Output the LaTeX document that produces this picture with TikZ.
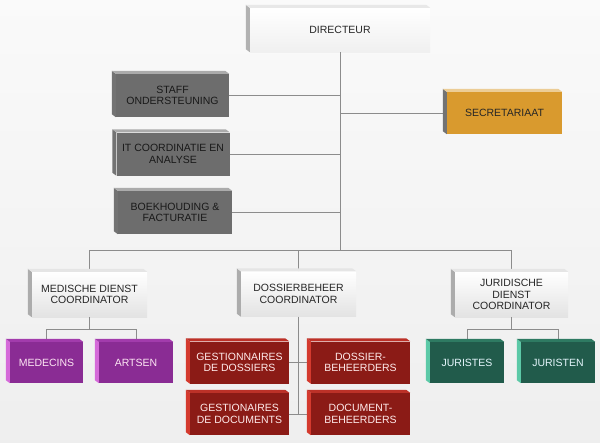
\documentclass[tikz,border=0pt]{standalone}
\usepackage{fontspec}
\setmainfont{Liberation Sans}
\usetikzlibrary{calc}
\definecolor{boxgray}{HTML}{6D6D6D}
\definecolor{secfill}{HTML}{D99A2E}
\definecolor{medfill}{HTML}{8A2C94}
\definecolor{medside}{HTML}{D56AD9}
\definecolor{medtop}{HTML}{A23CAC}
\definecolor{dosfill}{HTML}{8B1B16}
\definecolor{dosside}{HTML}{D43A2E}
\definecolor{dostop}{HTML}{BC3128}
\definecolor{jurfill}{HTML}{215B4B}
\definecolor{jurside}{HTML}{5CC9A7}
\definecolor{jurtop}{HTML}{2E7A62}
\definecolor{wireclr}{HTML}{8C8C8C}
\def\bevel(#1)[#2][#3]{%
	\fill[#2] (#1.north west) -- ++(-4,-3) -- ($(#1.south west)+(-4,-3)$) -- (#1.south west) -- cycle;
	\fill[#3] (#1.north west) -- ++(-4,-3) -- ($(#1.north east)+(-4,-3)$) -- (#1.north east) -- cycle;}
\tikzset{
	unit/.style={inner sep=0pt, align=center, font=\fontsize{10.5}{11.5}\selectfont},
	chief/.style={unit, top color=white, bottom color=gray!12, text=black!85, minimum width=180, minimum height=44},
	staffbox/.style={unit, fill=boxgray, text=black!90, minimum width=113, minimum height=43},
	secbox/.style={unit, fill=secfill, text=black!85, minimum width=115, minimum height=42},
	coordbox/.style={unit, top color=white, bottom color=gray!22, text=black!85, minimum width=115, minimum height=45},
	medbox/.style={unit, fill=medfill, text=white!90!magenta, minimum width=74, minimum height=41},
	dosbox/.style={unit, fill=dosfill, text=white!92!red, minimum width=99, minimum height=42},
	jurbox/.style={unit, fill=jurfill, text=white!90!cyan, minimum width=74, minimum height=41},
	wire/.style={draw=wireclr, line width=0.9pt}
}
\begin{document}
\begin{tikzpicture}[x=1pt, y=-1pt]
			%%%%% START %%%%%
			\useasboundingbox (0,0) rectangle (600,442);
			\shade[top color=gray!4, bottom color=gray!13] (0,0) rectangle (600,442);
			
			\node[chief] (dir) at (340,30) {DIRECTEUR};
			
			\node[staffbox] (staff) at (172.5,95.5) {STAFF\\ONDERSTEUNING};
			\node[staffbox] (it) at (173,154) {IT COORDINATIE EN\\ANALYSE};
			\node[staffbox, minimum width=114] (boek) at (175,212.5) {BOEKHOUDING \&\\FACTURATIE};
			\node[secbox] (sec) at (504.5,113) {SECRETARIAAT};
			
			\node[coordbox] (med) at (89.5,294.5) {MEDISCHE DIENST\\COORDINATOR};
			\node[coordbox] (dos) at (298.5,294) {DOSSIERBEHEER\\COORDINATOR};
			\node[coordbox, minimum width=113] (jur) at (511.5,294.5) {JURIDISCHE\\DIENST\\COORDINATOR};
			
			\node[medbox, minimum width=73] (medecins) at (46.5,362.5) {MEDECINS};
			\node[medbox] (artsen) at (136,362.5) {ARTSEN};
			\node[dosbox] (gdos) at (239.5,362.5) {GESTIONNAIRES\\DE DOSSIERS};
			\node[dosbox] (dbeh) at (360.5,362.5) {DOSSIER-\\BEHEERDERS};
			\node[dosbox] (gdoc) at (239.5,414) {GESTIONAIRES\\DE DOCUMENTS};
			\node[dosbox] (docb) at (360.5,414) {DOCUMENT-\\BEHEERDERS};
			\node[jurbox] (juristes) at (467,362.5) {JURISTES};
			\node[jurbox] (juristen) at (558,362.5) {JURISTEN};
			
			% connectors
			\coordinate (bus) at (0,250);
			\coordinate (lowbus) at (0,329);
			\draw[wire] (dir.south) -- (dir.south |- bus);
			\draw[wire] (staff.east) -- (staff.east -| dir.south);
			\draw[wire] (it.east) -- (it.east -| dir.south);
			\draw[wire] (boek.east) -- (boek.east -| dir.south);
			\draw[wire] (sec.west) -- (sec.west -| dir.south);
			\draw[wire] (med.north) -- (med.north |- bus) -- (jur.north |- bus) -- (jur.north);
			\draw[wire] (dos.north) -- (dos.north |- bus);
			
			\draw[wire] (med.south) -- (med.south |- lowbus);
			\draw[wire] (medecins.north) -- (medecins.north |- lowbus) -- (artsen.north |- lowbus) -- (artsen.north);
			\draw[wire] (jur.south) -- (jur.south |- lowbus);
			\draw[wire] (juristes.north) -- (juristes.north |- lowbus) -- (juristen.north |- lowbus) -- (juristen.north);
			\draw[wire] (dos.south) -- (dos.south |- gdoc.east);
			\draw[wire] (gdos.east) -- (dbeh.west);
			\draw[wire] (gdoc.east) -- (docb.west);
			
			% bevels
			\bevel(dir)[gray!60][gray!18]
			\bevel(staff)[black!55][black!33]
			\bevel(it)[black!55][black!33]
			\bevel(boek)[black!55][black!33]
			\bevel(sec)[black!55][secfill!50!white]
			\bevel(med)[gray!65][gray!20]
			\bevel(dos)[gray!65][gray!20]
			\bevel(jur)[gray!65][gray!20]
			\bevel(medecins)[medside][medtop]
			\bevel(artsen)[medside][medtop]
			\bevel(gdos)[dosside][dostop]
			\bevel(dbeh)[dosside][dostop]
			\bevel(gdoc)[dosside][dostop]
			\bevel(docb)[dosside][dostop]
			\bevel(juristes)[jurside][jurtop]
			\bevel(juristen)[jurside][jurtop]
			
			%%%%% END %%%%%
\end{tikzpicture}
\end{document}
